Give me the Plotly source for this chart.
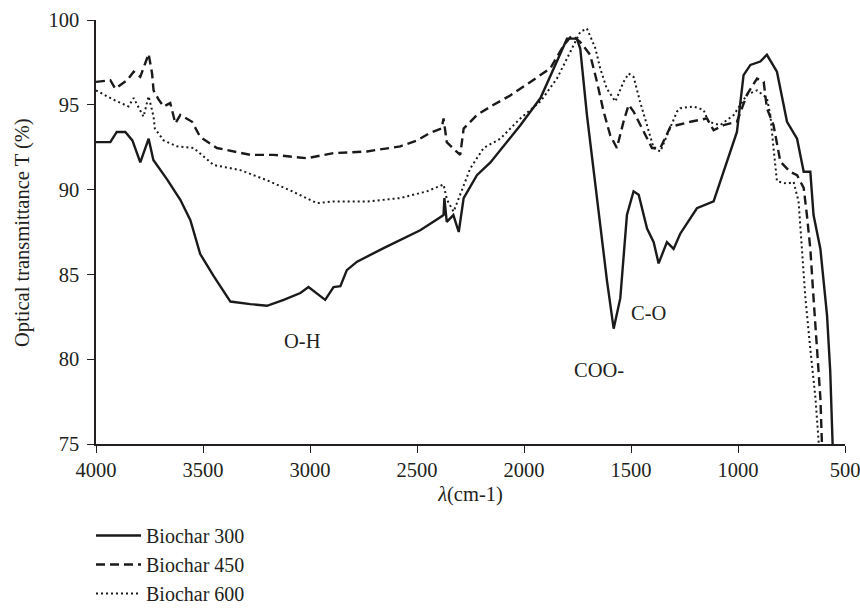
import plotly.graph_objects as go

# Wavenumber (cm-1) and transmittance (%)
w300 = [4000, 3933, 3903, 3863, 3830, 3793, 3754, 3732, 3668, 3606, 3559, 3513, 3450, 3372, 3279, 3201,
        3123, 3045, 3007, 2929, 2890, 2858, 2828, 2780, 2656, 2578, 2485, 2400, 2376, 2372, 2361, 2330,
        2305, 2282, 2220, 2157, 2095, 2017, 1923, 1862, 1799, 1753, 1737, 1706, 1659, 1612, 1581, 1550,
        1519, 1488, 1464, 1425, 1394, 1371, 1332, 1301, 1270, 1192, 1114, 1067, 1005, 974, 942, 896, 865,
        818, 771, 724, 693, 662, 647, 615, 584, 569, 553, 545]
t300 = [92.8, 92.8, 93.4, 93.4, 92.9, 91.6, 93.0, 91.75, 90.6, 89.4, 88.2, 86.2, 84.9, 83.4, 83.25, 83.15,
        83.5, 83.9, 84.25, 83.5, 84.25, 84.3, 85.25, 85.75, 86.55, 87.05, 87.6, 88.3, 88.5, 89.5, 88.1, 88.5,
        87.5, 89.5, 90.85, 91.6, 92.6, 93.8, 95.4, 97.15, 98.9, 98.9, 98.3, 94.4, 89.5, 84.6, 81.8, 83.6,
        88.5, 89.9, 89.7, 87.7, 86.9, 85.65, 86.9, 86.5, 87.4, 88.9, 89.3, 91.05, 93.4, 96.75, 97.35, 97.55, 97.95,
        96.95, 94.0, 93.0, 91.05, 91.05, 88.5, 86.5, 82.6, 79.3, 74.9, 70.0]

w450 = [4000, 3933, 3910, 3855, 3824, 3793, 3754, 3738, 3731, 3707, 3684, 3653, 3629, 3606, 3551, 3513,
        3435, 3279, 3170, 3015, 2890, 2734, 2578, 2500, 2438, 2385, 2376, 2361, 2329, 2298, 2282, 2220,
        2142, 2064, 1970, 1877, 1815, 1776, 1737, 1691, 1659, 1628, 1597, 1566, 1535, 1511, 1488, 1441,
        1402, 1363, 1316, 1222, 1145, 1114, 1067, 1005, 958, 911, 880, 865, 834, 802, 756, 724, 693, 678,
        662, 647, 631, 615, 608, 600]
t450 = [96.35, 96.45, 95.95, 96.45, 96.95, 96.65, 98.0, 96.85, 95.85, 95.3, 94.9, 95.1, 93.9, 94.4, 94.0, 93.1,
        92.45, 92.05, 92.05, 91.85, 92.15, 92.25, 92.55, 92.9, 93.35, 93.6, 94.2, 92.8, 92.4, 92.05, 93.6, 94.4,
        95.0, 95.55, 96.35, 97.15, 98.5, 99.1, 98.7, 97.95, 96.35, 94.6, 93.2, 92.45, 94.0, 95.0, 94.6, 93.4,
        92.45, 92.45, 93.7, 94.0, 94.2, 93.5, 93.8, 94.0, 95.6, 96.55, 96.35, 94.8, 93.8, 91.65, 91.05, 90.85, 90.1, 88.5,
        86.5, 83.6, 80.6, 77.7, 75.1, 72.0]

w600 = [4000, 3918, 3848, 3824, 3778, 3754, 3731, 3725, 3684, 3622, 3544, 3497, 3450, 3326, 3201, 3092,
        2967, 2890, 2734, 2578, 2453, 2376, 2360, 2329, 2298, 2251, 2189, 2111, 2017, 1923, 1846, 1784,
        1737, 1706, 1667, 1644, 1613, 1573, 1535, 1511, 1488, 1458, 1425, 1394, 1363, 1332, 1285, 1270,
        1208, 1161, 1138, 1083, 1020, 958, 911, 865, 849, 834, 818, 771, 740, 717, 701, 685, 662, 638, 623, 615]
t600 = [95.85, 95.3, 94.9, 95.4, 94.3, 95.5, 94.3, 93.6, 92.9, 92.55, 92.45, 91.95, 91.45, 91.15, 90.55, 89.95,
        89.2, 89.3, 89.3, 89.5, 89.9, 90.3, 89.4, 88.7, 89.7, 91.25, 92.45, 93.0, 94.2, 95.2, 96.55, 98.15,
        99.3, 99.5, 98.35, 97.15, 95.95, 95.2, 96.35, 96.85, 96.65, 95.2, 93.8, 92.45, 92.25, 93.2, 94.6, 94.8,
        94.9, 94.7, 94.0, 93.8, 94.4, 95.6, 95.85, 95.4, 94.4, 92.45, 90.5, 90.35, 90.45, 89.3, 86.5, 83.6, 80.6, 77.7, 75.1, 73.0]

series_names = ["Biochar 300", "Biochar 450", "Biochar 600"]

band_labels = ["O-H", "COO-", "C-O"]
band_x = [3037, 1648, 1418]
band_y = [81.1, 79.35, 82.75]

x_ticks = [4000, 3500, 3000, 2500, 2000, 1500, 1000, 500]
y_ticks = [75, 80, 85, 90, 95, 100]

FONT = "Liberation Serif"
FS = 20.5
INK = "#231f20"

fig = go.Figure()
fig.add_trace(go.Scatter(x=w300, y=t300, mode="lines", name=series_names[0],
                         line=dict(color="#1a1a1a", width=2.4, dash="solid")))
fig.add_trace(go.Scatter(x=w450, y=t450, mode="lines", name=series_names[1],
                         line=dict(color="#1a1a1a", width=2.4, dash="9px,5px")))
fig.add_trace(go.Scatter(x=w600, y=t600, mode="lines", name=series_names[2],
                         line=dict(color="#1a1a1a", width=2.0, dash="2px,3px")))

for lbl, bx, by in zip(band_labels, band_x, band_y):
    fig.add_annotation(x=bx, y=by, text=lbl, showarrow=False,
                       font=dict(family=FONT, size=FS, color=INK))

# y-axis title, placed left of the tick labels
fig.add_annotation(xref="paper", yref="paper", x=-0.0988, y=0.5, text="Optical transmittance T (%)",
                   textangle=-90, showarrow=False, xanchor="center", yanchor="middle",
                   font=dict(family=FONT, size=FS, color=INK))

fig.update_xaxes(range=[4000, 500], tickvals=x_ticks, ticks="outside", ticklen=7, tickwidth=1.3,
                 tickcolor=INK, showline=True, linecolor=INK, linewidth=1.5, showgrid=False,
                 zeroline=False, automargin=True, ticklabeloverflow="allow",
                 tickfont=dict(family=FONT, size=FS, color=INK),
                 title=dict(text="<i>λ</i>(cm-1)", font=dict(family=FONT, size=FS, color=INK), standoff=6))
fig.update_yaxes(range=[75, 100], tickvals=y_ticks, ticks="outside", ticklen=7, tickwidth=1.3,
                 tickcolor=INK, showline=True, linecolor=INK, linewidth=1.5, showgrid=False,
                 zeroline=False, automargin=False, ticklabeloverflow="allow",
                 tickfont=dict(family=FONT, size=FS, color=INK), ticklabelstandoff=4)

fig.update_layout(
    width=860, height=608,
    margin=dict(l=96, r=15, t=20, b=164, autoexpand=False),
    plot_bgcolor="white", paper_bgcolor="white",
    font=dict(family=FONT, size=FS, color=INK),
    legend=dict(xref="container", yref="container", x=91 / 860, y=1 - 516 / 608,
                xanchor="left", yanchor="top", orientation="v",
                font=dict(family=FONT, size=20, color=INK), bgcolor="rgba(0,0,0,0)",
                tracegroupgap=0, itemwidth=45),
    showlegend=True,
)

fig.write_html("out.html")
